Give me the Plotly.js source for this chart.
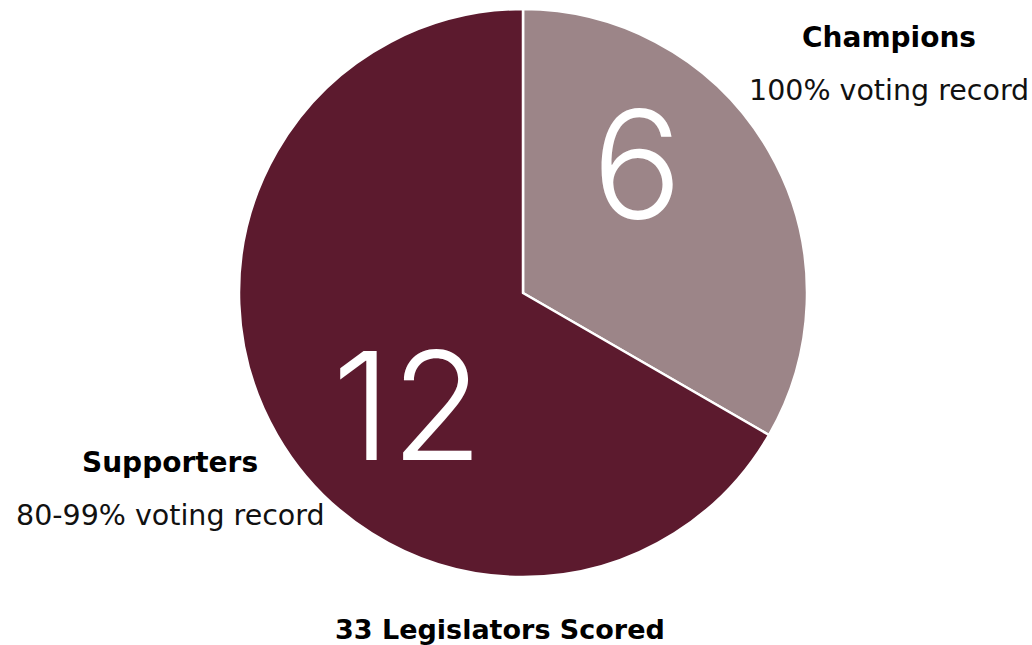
<!DOCTYPE html>
<html>
<head>
<meta charset="utf-8">
<script src="https://cdn.plot.ly/plotly-3.0.1.min.js"></script>
<style>html,body{margin:0;padding:0;background:#fff;}#chart{width:1032px;height:645px;}</style>
</head>
<body>
<div id="chart"></div>
<script>
const categories = ["Champions", "Supporters"];
const descriptions = ["100% voting record", "80-99% voting record"];
const counts = [6, 12];
const totalScored = 33;
const colors = ["#9c8588", "#5c1a2e"];

const labelFont = "'DejaVu Sans', sans-serif";
const numberFont = "Inter, 'Open Sans', sans-serif";

const trace = {
  type: "pie",
  labels: categories,
  values: counts,
  sort: false,
  direction: "clockwise",
  rotation: 0,
  textinfo: "none",
  hoverinfo: "label+value",
  marker: { colors: colors, line: { color: "#ffffff", width: 2.5 } },
  domain: { x: [239/1032, 807/1032], y: [68/645, 636/645] },
  showlegend: false
};

const annPos = [
  { nx: 0.617, ny: 0.745, lx: 889, ly: 37, dy: 91 },
  { nx: 0.395, ny: 0.372, lx: 170, ly: 462, dy: 515 }
];

const annotations = [];
categories.forEach((c, i) => {
  const p = annPos[i];
  annotations.push({
    xref: "paper", yref: "paper", x: p.nx, y: p.ny, showarrow: false,
    text: String(counts[i]), font: { family: numberFont, size: 150, color: "#ffffff", weight: 300 },
    xanchor: "center", yanchor: "middle"
  });
  annotations.push({
    xref: "paper", yref: "paper", x: p.lx / 1032, y: 1 - p.ly / 645, showarrow: false,
    text: "<b>" + c + "</b>", font: { family: labelFont, size: 28, color: "#000000" },
    xanchor: "center", yanchor: "middle"
  });
  annotations.push({
    xref: "paper", yref: "paper", x: p.lx / 1032, y: 1 - p.dy / 645, showarrow: false,
    text: descriptions[i], font: { family: labelFont, size: 28.5, color: "#111111" },
    xanchor: "center", yanchor: "middle"
  });
});
annotations.push({
  xref: "paper", yref: "paper", x: 500 / 1032, y: 0, showarrow: false,
  text: "<b>" + totalScored + " Legislators Scored</b>", font: { family: labelFont, size: 27, color: "#000000" },
  xanchor: "center", yanchor: "bottom", yshift: -2
});

const layout = {
  width: 1032, height: 645,
  margin: { l: 0, r: 0, t: 0, b: 0 },
  paper_bgcolor: "#ffffff",
  plot_bgcolor: "#ffffff",
  showlegend: false,
  annotations: annotations
};

Plotly.newPlot("chart", [trace], layout, { displayModeBar: false, staticPlot: true });
</script>
</body>
</html>
